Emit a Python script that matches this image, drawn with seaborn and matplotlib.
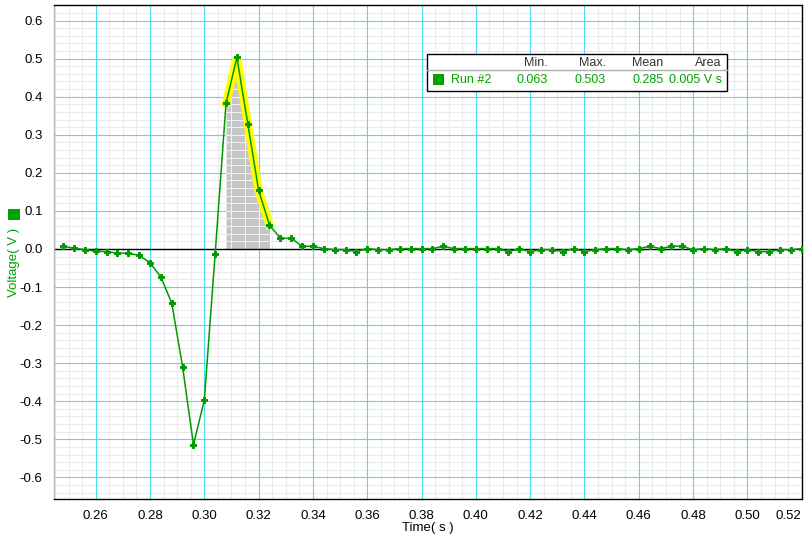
import numpy as np
import pandas as pd
import matplotlib
matplotlib.use("Agg")
import matplotlib.pyplot as plt
from matplotlib.patches import Rectangle
from matplotlib.lines import Line2D
import seaborn as sns

# ---- data ----
time_s = [round(0.248 + 0.004 * i, 3) for i in range(69)]
voltage = [
    0.007, 0.002, -0.002, -0.006, -0.007, -0.011, -0.011, -0.017, -0.036, -0.074,
    -0.142, -0.310, -0.514, -0.397, -0.012, 0.383, 0.503, 0.329, 0.154, 0.063,
    0.028, 0.028, 0.007, 0.007, 0.001, -0.002, -0.002, -0.007, 0.001, -0.002,
    -0.002, 0.001, 0.001, 0.001, 0.001, 0.007, 0.001, 0.001, 0.001, 0.001,
    0.001, -0.007, 0.000, -0.007, -0.002, -0.002, -0.007, 0.001, -0.007, -0.002,
    0.001, 0.001, -0.002, 0.001, 0.007, 0.001, 0.007, 0.007, -0.002, 0.001,
    -0.002, 0.001, -0.007, -0.002, -0.007, -0.007, -0.002, -0.002, 0.001,
]
sel_start, sel_end = 0.308, 0.324
run_name = "Run #2"
stat_headers = ["Min.", "Max.", "Mean", "Area"]
stat_values = ["0.063", "0.503", "0.285", "0.005 V s"]
x_ticks = [round(0.26 + 0.02 * i, 2) for i in range(14)]
y_ticks = [round(-0.6 + 0.1 * i, 1) for i in range(13)]

df = pd.DataFrame({"t": time_s, "v": voltage})
sel = df[(df.t >= sel_start - 1e-9) & (df.t <= sel_end + 1e-9)]

sns.set_style("white")
plt.rcParams["font.family"] = ["Liberation Sans", "DejaVu Sans"]
plt.rcParams["axes.unicode_minus"] = False

W, H = 807, 543
fig = plt.figure(figsize=(W / 100, H / 100), dpi=100)
L, R, T, B = 53.7, 801.7, 5.3, 499.3
ax = fig.add_axes([L / W, 1 - B / H, (R - L) / W, (B - T) / H])

ax.set_xlim(0.24453, 0.5200)
ax.set_ylim(-0.6576, 0.6366)

GREEN_LINE = "#009a00"
GREEN = "#00a400"
CYAN = "#48e0ec"
MINOR = "#ebebeb"

xminor = np.arange(0.245, 0.5201, 0.005)
yminor = np.arange(-0.64, 0.6401, 0.02)
ax.set_xticks(x_ticks)
ax.set_xticks(xminor, minor=True)
ax.set_yticks(y_ticks)
ax.set_yticks(yminor, minor=True)
ax.set_xticklabels([f"{v:.2f}" for v in x_ticks])
ax.set_yticklabels([f"{v:.1f}" for v in y_ticks])
lbls = ax.get_xticklabels()
lbls[-1].set_horizontalalignment("right")

ax.grid(False)
# minor grid first, then major cyan grid on top of it
for xv in xminor:
    ax.axvline(xv, color=MINOR, lw=0.75, zorder=0.3)
for yv in yminor:
    ax.axhline(yv, color=MINOR, lw=0.75, zorder=0.3)
for xv in x_ticks:
    ax.axvline(xv, color=CYAN, lw=0.8, zorder=0.4)
for yv in y_ticks:
    ax.axhline(yv, color=CYAN, lw=0.8, zorder=0.4)

ax.tick_params(axis="x", which="major", direction="out", length=4, width=0.8,
               color="#555555", labelsize=9.5, pad=4, labelcolor="black")
ax.tick_params(axis="x", which="minor", direction="out", length=3, width=0.8,
               color="#777777")
ax.tick_params(axis="y", which="major", direction="out", length=5, width=0.8,
               color="#b0b0b0", labelsize=9.5, pad=3, labelcolor="black")
ax.tick_params(axis="y", which="minor", direction="out", length=3, width=0.8,
               color="#b0b0b0")

for s in ["top", "right", "bottom"]:
    ax.spines[s].set_color("black")
    ax.spines[s].set_linewidth(1.0)
ax.spines["left"].set_color("#b8b8b8")
ax.spines["left"].set_linewidth(1.0)

# shaded area of the selection
poly = ax.fill_between(sel.t, 0, sel.v, color="#c6c6c6", lw=0, zorder=1)
clip = poly.get_paths()[0]
for xv in xminor:
    ln = ax.axvline(xv, color="#f4f4f4", lw=0.7, zorder=1.1)
    ln.set_clip_path(clip, ax.transData)
for yv in yminor:
    ln = ax.axhline(yv, color="#f4f4f4", lw=0.7, zorder=1.1)
    ln.set_clip_path(clip, ax.transData)

# zero line
ax.axhline(0, color="black", lw=1.0, zorder=1.5)

# highlighted selection
ax.plot(sel.t, sel.v, color="#ffff00", lw=6.0, solid_capstyle="projecting",
        solid_joinstyle="bevel", zorder=2)

sns.lineplot(data=df, x="t", y="v", ax=ax, color=GREEN_LINE, lw=1.1,
             marker="P", markersize=4.0, markeredgewidth=0.7,
             markeredgecolor=GREEN_LINE, markerfacecolor=GREEN_LINE, zorder=3,
             estimator=None, sort=False)

ax.set_xlabel("")
ax.set_ylabel("")

# axis titles
fig.text(428 / W, 1 - 528 / H, "Time( s )", ha="center", va="center",
         fontsize=9.5, color="black")
fig.text(14 / W, 1 - 262 / H, "Voltage( V )", ha="center", va="center",
         rotation=90, fontsize=9.5, color=GREEN)
fig.patches.append(Rectangle((8 / W, 1 - 220 / H), 12 / W, 11 / H,
                             transform=fig.transFigure, facecolor=GREEN,
                             edgecolor="none"))

# statistics box
bx0, bx1, by0, by1 = 426.7, 727.3, 54.3, 91.0
fig.patches.append(Rectangle((bx0 / W, 1 - by1 / H), (bx1 - bx0) / W,
                             (by1 - by0) / H, transform=fig.transFigure,
                             facecolor="white", edgecolor="black", lw=1.0,
                             zorder=5))
fig.lines.append(Line2D([bx0 / W, bx1 / W], [1 - 70.5 / H, 1 - 70.5 / H],
                        transform=fig.transFigure, color="#b0b0b0", lw=1.0,
                        zorder=6))
col_right = [547.7, 605.7, 663.3, 721.7]
for xr, hd, val in zip(col_right, stat_headers, stat_values):
    fig.text(xr / W, 1 - 63 / H, hd, ha="right", va="center", fontsize=9,
             color="#333333", zorder=7)
    fig.text(xr / W, 1 - 80 / H, val, ha="right", va="center", fontsize=9,
             color=GREEN, zorder=7)
fig.patches.append(Rectangle((433 / W, 1 - 85.3 / H), 11 / W, 11 / H,
                             transform=fig.transFigure, facecolor=GREEN,
                             edgecolor="none", zorder=7))
fig.text(450.7 / W, 1 - 80 / H, run_name, ha="left", va="center", fontsize=9,
         color=GREEN, zorder=7)

fig.savefig("out.png", dpi=100)
